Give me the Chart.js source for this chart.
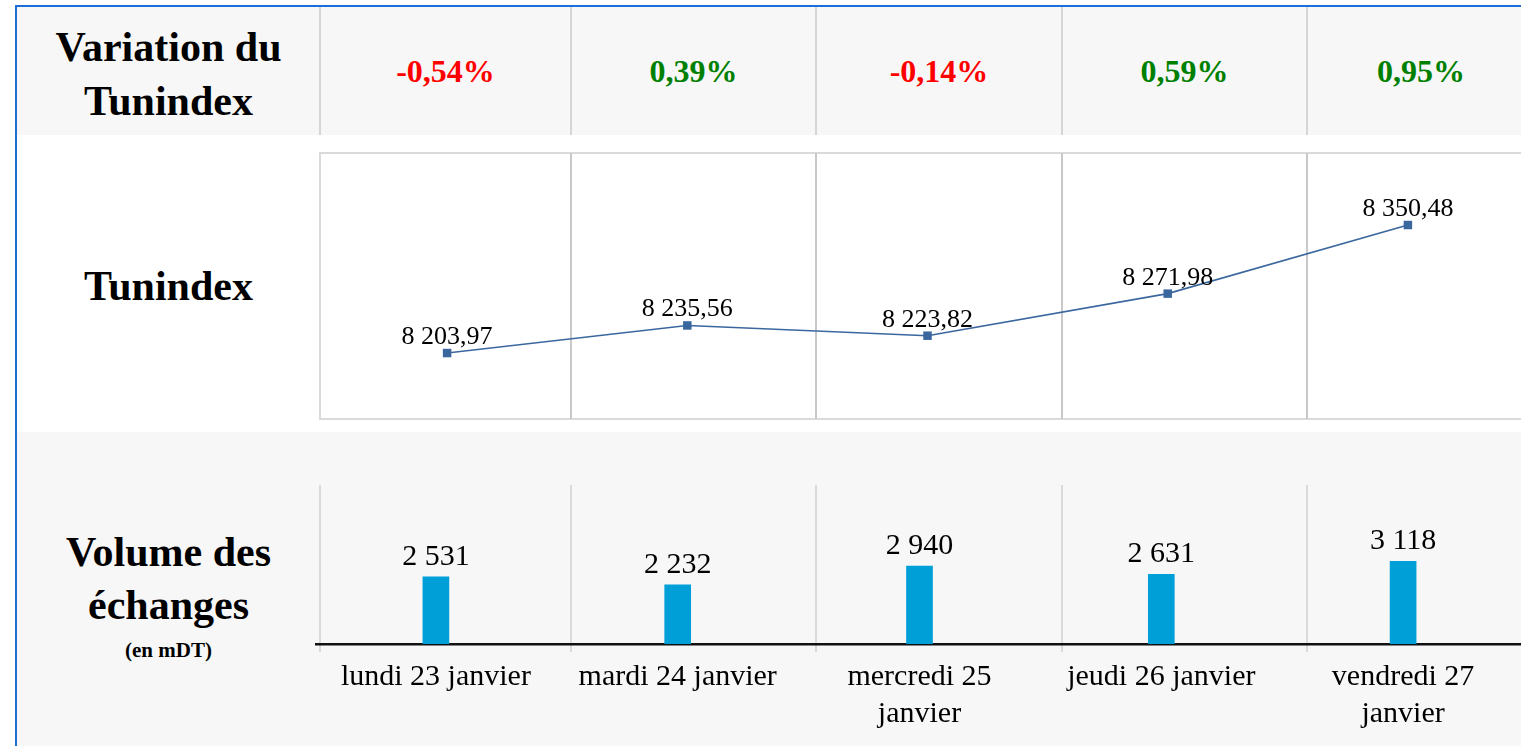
<!DOCTYPE html>
<html lang="fr">
<head>
<meta charset="utf-8">
<title>Tunindex - semaine du 23 janvier</title>
<script src="https://cdn.jsdelivr.net/npm/chart.js@4.4.1/dist/chart.umd.min.js"></script>
<style>
  html, body { margin: 0; padding: 0; width: 1521px; height: 746px; overflow: hidden; background: #fff; }
  body { position: relative; font-family: "Liberation Serif", "Times New Roman", serif; color: #000; }
  .abs { position: absolute; }
  .grey { background: #f7f7f7; }
  .rowTitle { text-align: center; font-weight: bold; }
  .pct { text-align: center; font-weight: bold; font-size: 32px; line-height: 128px; }
  canvas { position: absolute; }
</style>
</head>
<body>

<!-- backgrounds and frame -->
<div class="abs grey" style="left:17px; top:7px; width:1504px; height:128px;"></div>
<div class="abs grey" style="left:17px; top:432px; width:1504px; height:314px;"></div>
<div class="abs" style="left:15px; top:5px; width:1506px; height:2px; background:#1c6fd9;"></div>
<div class="abs" style="left:15px; top:5px; width:2px; height:741px; background:#1c6fd9;"></div>

<!-- line chart box -->
<div class="abs" style="left:319px; top:152px; width:1300px; height:268px; border:2px solid #dadada; box-sizing:border-box;"></div>

<div id="lines"></div>
<div id="pcts"></div>

<!-- row titles -->
<div class="abs rowTitle" style="left:17px; top:20px; width:303px; font-size:42px; line-height:54px;">Variation du<br>Tunindex</div>
<div class="abs rowTitle" style="left:17px; top:259px; width:303px; font-size:42px; line-height:54px;">Tunindex</div>
<div class="abs rowTitle" style="left:17px; top:526px; width:303px; font-size:42px; line-height:53px;">Volume des<br>échanges<br><span style="font-size:21px; line-height:36px; display:block;">(en mDT)</span></div>

<canvas id="lineChart" width="1201" height="266" style="left:327px; top:153px;"></canvas>
<canvas id="barChart" width="1209" height="261" style="left:315px; top:485px;"></canvas>

<script>
// data
const days = ['lundi 23 janvier', 'mardi 24 janvier', ['mercredi 25', 'janvier'], 'jeudi 26 janvier', ['vendredi 27', 'janvier']];
const variations = [-0.54, 0.39, -0.14, 0.59, 0.95];
const tunindex = [8203.97, 8235.56, 8223.82, 8271.98, 8350.48];
const volumes = [2531, 2232, 2940, 2631, 3118];

// table layout (cell edges in px)
const cellEdges = [320, 571, 816, 1062, 1307, 1535];

function addLine(x, top, h, color) {
    const d = document.createElement('div');
    d.className = 'abs';
    d.style.cssText = 'left:' + (x - 1) + 'px;top:' + top + 'px;width:2px;height:' + h + 'px;background:' + color + ';';
    document.getElementById('lines').appendChild(d);
}
for (let i = 0; i < 5; i++) {
    addLine(cellEdges[i], 7, 128, '#d5d5d5');
    addLine(cellEdges[i], 485, 167, '#dadada');
    if (i > 0) addLine(cellEdges[i], 153, 266, '#c8c8c8');
}

// French number format: 8 203,97
function fr(v, dec) {
    const parts = v.toFixed(dec).split('.');
    const intPart = parts[0].replace(/\B(?=(\d{3})+(?!\d))/g, ' ');
    return dec ? intPart + ',' + parts[1] : intPart;
}

// header row of variations
variations.forEach(function(v, i) {
    const d = document.createElement('div');
    d.className = 'abs pct';
    d.style.left = cellEdges[i] + 'px';
    d.style.width = (cellEdges[i + 1] - cellEdges[i]) + 'px';
    d.style.top = '7px';
    d.style.height = '128px';
    d.style.color = v < 0 ? '#ff0000' : '#008000';
    d.textContent = fr(v, 2) + '%';
    document.getElementById('pcts').appendChild(d);
});

// value labels above each mark
function makeLabels(font, offset, dec) {
    return {
        id: 'valueLabels',
        afterDatasetsDraw(chart) {
            const ctx = chart.ctx;
            const values = chart.data.datasets[0].data;
            ctx.save();
            ctx.font = font;
            ctx.fillStyle = '#000';
            ctx.textAlign = 'center';
            ctx.textBaseline = 'alphabetic';
            chart.getDatasetMeta(0).data.forEach(function(el, i) {
                ctx.fillText(fr(values[i], dec), el.x, el.y - offset);
            });
            ctx.restore();
        }
    };
}

// Tunindex line
new Chart(document.getElementById('lineChart'), {
    type: 'line',
    data: {
        labels: days,
        datasets: [{
            data: tunindex,
            borderColor: '#3b679f',
            borderWidth: 1.6,
            pointStyle: 'rect',
            pointRadius: 6,
            pointBackgroundColor: '#3b679f',
            pointBorderColor: '#3b679f',
            pointBorderWidth: 0,
            clip: false,
            tension: 0
        }]
    },
    options: {
        responsive: false,
        animation: false,
        layout: { padding: 0, autoPadding: false },
        plugins: { legend: { display: false }, tooltip: { enabled: false } },
        scales: {
            x: { display: false, offset: true },
            y: { display: false, min: 8128.5, max: 8432.9 }
        }
    },
    plugins: [makeLabels('26px "Liberation Serif"', 9, 2)]
});

// volume bars
new Chart(document.getElementById('barChart'), {
    type: 'bar',
    data: {
        labels: days,
        datasets: [{
            data: volumes,
            backgroundColor: '#009fd8',
            barThickness: 26
        }]
    },
    options: {
        responsive: false,
        animation: false,
        layout: { padding: 0, autoPadding: false },
        plugins: { legend: { display: false }, tooltip: { enabled: false } },
        scales: {
            x: {
                grid: { display: false },
                border: { display: true, color: '#111', width: 2.5 },
                ticks: {
                    color: '#000',
                    font: { family: '"Liberation Serif"', size: 30, lineHeight: 1.22 },
                    padding: 7,
                    maxRotation: 0,
                    autoSkip: false
                },
                afterFit: function(scale) { scale.height = 102; }
            },
            y: { display: false, min: 0, max: 6000 }
        }
    },
    plugins: [makeLabels('30px "Liberation Serif"', 12, 0)]
});
</script>
</body>
</html>
